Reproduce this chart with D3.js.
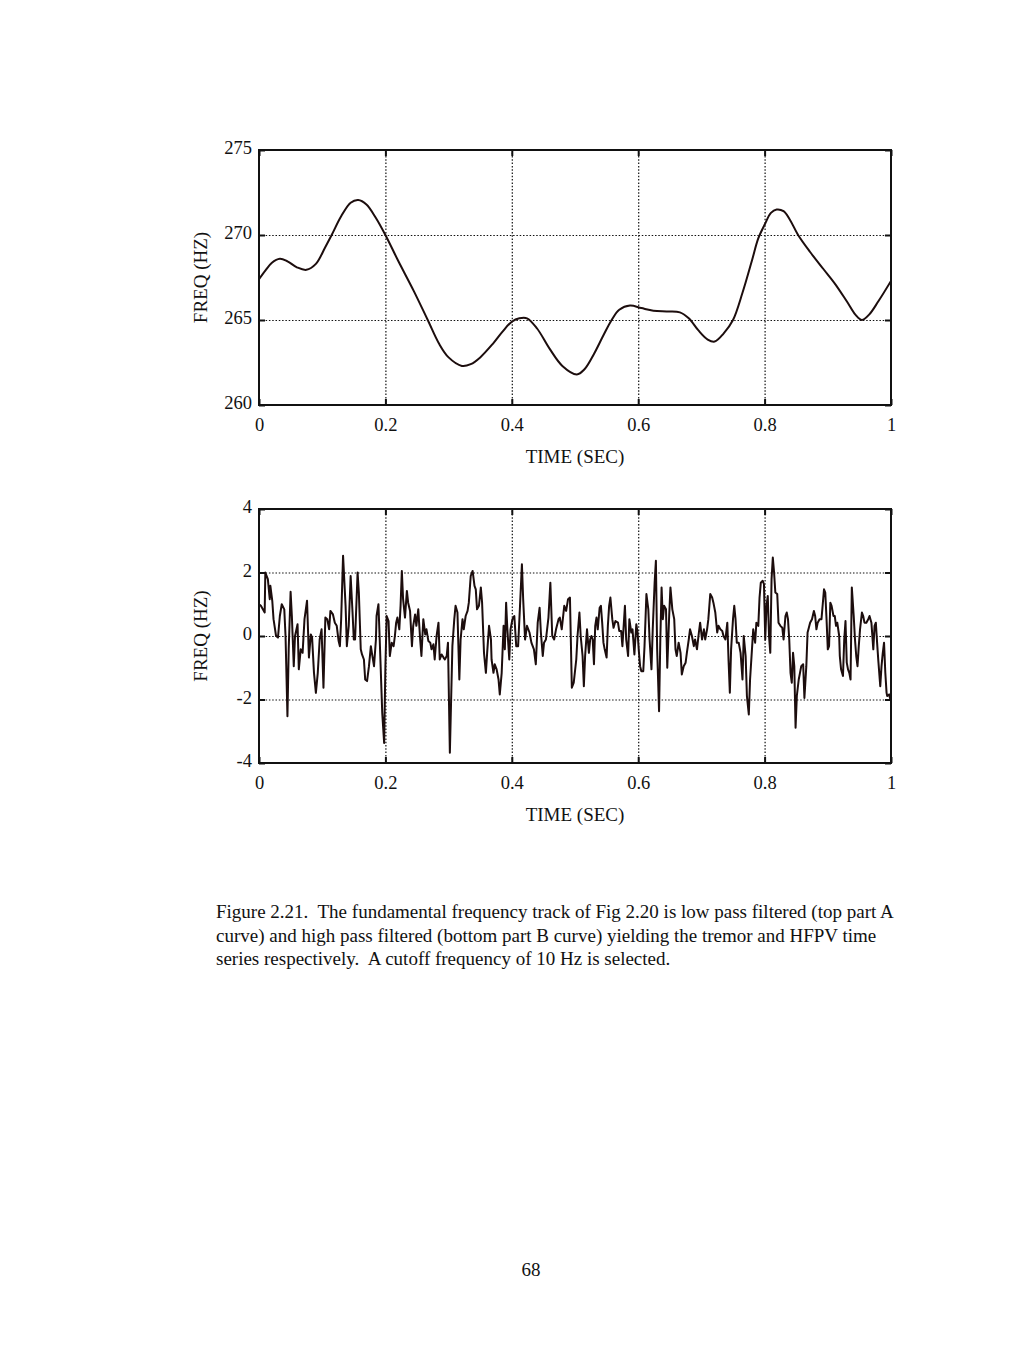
<!DOCTYPE html>
<meta charset="utf-8">
<style>
body { margin: 0; background: #fff; }
svg { display: block; }
text { font-family: "Liberation Serif", "DejaVu Serif", serif; fill: #111; }
.grid line { stroke: #111; stroke-width: 1.2; stroke-dasharray: 1.5,1.8; }
.grid path { display: none; }
.tick-labels path, .tick-labels line { display: none; }
.tick-labels text { font-size: 18.5px; font-family: "Liberation Serif", serif; }
.inner path { display: none; }
.inner line { stroke: #111; stroke-width: 2; }
.frame { fill: none; stroke: #111; stroke-width: 2; }
.trace { fill: none; stroke: #1c0d0d; stroke-width: 2; stroke-linejoin: round; }
</style>
<body>
<svg width="1024" height="1365"></svg>
<script src="https://cdn.jsdelivr.net/npm/d3@7"></script>
<script>

// x axis (both panels)
var timeTicks = [0, 0.2, 0.4, 0.6, 0.8, 1];

// part A: low pass filtered track (tremor), [time sec, freq Hz]
var tremorTicks = [260, 265, 270, 275];
var tremor = [
  [0, 267.4], [0.01, 267.9], [0.02, 268.35], [0.033, 268.6], [0.045, 268.45],
  [0.06, 268.1], [0.075, 267.95], [0.09, 268.3], [0.105, 269.3], [0.115, 270.0],
  [0.13, 271.1], [0.145, 271.9], [0.157, 272.06], [0.17, 271.8], [0.185, 271.0],
  [0.2, 270.0], [0.22, 268.5], [0.245, 266.7], [0.267, 265.0], [0.285, 263.6],
  [0.3, 262.8], [0.321, 262.3], [0.335, 262.4], [0.35, 262.8], [0.37, 263.6],
  [0.385, 264.3], [0.4, 264.9], [0.412, 265.1], [0.424, 265.1], [0.44, 264.5],
  [0.46, 263.3], [0.48, 262.3], [0.503, 261.8], [0.515, 262.1], [0.53, 263.0],
  [0.545, 264.1], [0.558, 265.0], [0.57, 265.6], [0.587, 265.85], [0.605, 265.7],
  [0.624, 265.55], [0.645, 265.5], [0.666, 265.45], [0.68, 265.1], [0.695, 264.4],
  [0.71, 263.85], [0.721, 263.73], [0.735, 264.2], [0.75, 265.0], [0.765, 266.6],
  [0.78, 268.5], [0.79, 269.8], [0.8, 270.6], [0.81, 271.3], [0.819, 271.5],
  [0.83, 271.4], [0.84, 270.9], [0.853, 270.0], [0.872, 269.0], [0.893, 268.0],
  [0.912, 267.1], [0.93, 266.1], [0.944, 265.3], [0.954, 265.0], [0.965, 265.3],
  [0.98, 266.1], [1.0, 267.3]
];

// part B: high pass filtered track (HFPV), [time sec, freq Hz]
var hfpvTicks = [-4, -2, 0, 2, 4];
var hfpv = [
  [0.000,1.0],[0.003,0.95],[0.009,0.74],[0.010,2.0],[0.014,1.79],[0.017,1.16],[0.018,1.58],[0.021,1.11],
  [0.023,0.53],[0.027,0],[0.030,-0.05],[0.033,0.63],[0.036,1.0],[0.040,0.84],[0.042,0],[0.045,-2.53],
  [0.047,-0.42],[0.050,1.39],[0.052,0.63],[0.055,-0.95],[0.057,0],[0.061,0.37],[0.063,-1.05],[0.066,-0.42],
  [0.069,-0.53],[0.072,0.53],[0.076,1.11],[0.079,-0.68],[0.082,0.05],[0.084,-0.05],[0.087,-1.16],[0.090,-1.79],
  [0.093,-1.16],[0.096,-0.11],[0.099,0.21],[0.102,-1.63],[0.105,0.58],[0.108,0.53],[0.111,0.21],[0.113,0.79],
  [0.117,0.68],[0.120,0.42],[0.123,0.32],[0.126,-0.16],[0.128,-0.32],[0.130,0.53],[0.133,2.53],[0.137,0.95],
  [0.139,-0.32],[0.142,0.32],[0.145,1.89],[0.148,0.74],[0.150,-0.11],[0.152,-0.11],[0.156,2.0],[0.158,1.37],
  [0.161,-0.42],[0.163,-0.58],[0.166,-0.74],[0.168,-1.37],
  [0.171,-1.42],[0.174,-0.95],[0.177,-0.32],[0.179,-0.58],[0.182,-0.95],[0.185,-0.11],[0.186,0.63],[0.189,1.0],
  [0.191,-0.11],[0.195,-2.42],[0.198,-3.37],[0.200,-0.95],[0.202,0.63],[0.205,0.47],[0.207,-0.63],[0.210,-0.21],
  [0.213,-0.32],[0.215,0],[0.217,0.42],[0.219,0.58],[0.222,0.21],[0.224,0.95],[0.226,2.05],[0.228,1.16],
  [0.231,0.58],[0.234,1.42],[0.236,1.05],[0.239,0.79],[0.242,-0.32],[0.244,0.32],[0.247,0.68],[0.249,0.32],
  [0.252,0.84],[0.255,-0.11],[0.257,-0.63],[0.260,0.53],[0.263,0.05],[0.265,0.21],[0.268,-0.16],[0.271,-0.21],
  [0.273,-0.42],[0.276,-0.26],[0.278,-0.74],[0.281,0],[0.284,0.42],[0.286,-0.74],[0.289,-0.58],[0.292,-0.68],
  [0.294,-0.74],[0.297,-0.63],[0.299,-0.21],[0.302,-3.68],[0.304,-2.0],[0.306,-0.32],[0.309,0.53],[0.311,0.95],
  [0.314,0.74],[0.317,-1.37],[0.319,-0.11],[0.322,0.53],[0.324,0.21],[0.327,0.63],[0.330,0.79],[0.332,1.05],
  [0.335,1.89],
  [0.338,2.05],[0.341,1.58],[0.343,1.47],[0.345,0.84],[0.348,0.95],[0.351,1.53],[0.353,1.05],[0.356,-0.53],
  [0.359,-1.16],[0.361,-0.53],[0.364,0.32],[0.367,-0.11],[0.368,-0.74],[0.371,-1.16],[0.373,-0.89],[0.376,-1.05],
  [0.379,-1.37],[0.381,-1.84],[0.384,-1.16],[0.387,0.32],[0.389,-0.42],[0.391,1.05],[0.393,0.21],[0.396,-0.74],
  [0.398,0.21],[0.401,0.53],[0.404,0.63],[0.407,-0.32],[0.410,-0.32],[0.413,0.95],[0.416,2.26],[0.418,1.16],
  [0.421,-0.11],[0.424,0.32],[0.428,0.11],[0.431,-0.21],[0.435,-0.42],[0.438,-0.89],[0.441,0.42],[0.444,0.89],
  [0.446,0.11],[0.449,-0.63],[0.451,-0.21],[0.454,-0.11],[0.458,0.58],[0.461,1.68],[0.464,0],[0.467,-0.11],
  [0.470,0.21],[0.474,0.53],[0.476,0.58],[0.479,0.21],[0.483,0.95],[0.486,0.79],[0.489,1.16],[0.492,1.21],
  [0.495,-1.63],[0.498,-1.47],[0.502,-0.74],
  [0.504,0],[0.507,0.74],[0.509,0],[0.512,-0.63],[0.514,-1.58],[0.516,-0.63],[0.519,0.21],[0.522,-0.53],
  [0.524,-0.11],[0.526,0],[0.528,-0.11],[0.530,-0.89],[0.532,0.32],[0.534,0.58],[0.536,0.21],[0.539,0.89],
  [0.541,0.95],[0.543,0.42],[0.545,-0.21],[0.547,-0.42],[0.550,-0.68],[0.552,0.32],[0.554,0.95],[0.556,1.21],
  [0.559,0.53],[0.561,0.26],[0.564,0.47],[0.568,0.42],[0.570,0.16],[0.573,0.16],[0.575,-0.32],[0.579,0.95],
  [0.581,-0.11],[0.584,-0.63],[0.586,0.53],[0.589,0.11],[0.591,0.21],[0.594,-0.58],[0.597,0.37],[0.599,0.11],
  [0.601,-0.47],[0.603,-0.95],[0.605,-1.11],[0.608,-1.11],[0.610,-0.32],[0.613,1.32],[0.616,0.84],[0.618,-0.11],
  [0.621,-1.05],[0.623,0.21],[0.626,1.68],[0.628,2.37],[0.630,-0.42],[0.633,-2.37],[0.635,-0.11],[0.637,1.53],
  [0.639,0.53],[0.641,0.95],[0.644,0.84],[0.646,-1.0],[0.649,0.63],[0.651,1.53],[0.654,0.84],[0.657,0.53],
  [0.659,-0.42],[0.661,-0.63],[0.664,-0.21],[0.667,-0.53],[0.669,-1.21],
  [0.672,-0.95],[0.675,-0.84],[0.677,-0.53],[0.680,-0.11],[0.682,0.21],[0.685,0],[0.688,-0.32],[0.690,-0.11],
  [0.693,-0.42],[0.696,0.11],[0.698,0.42],[0.701,-0.11],[0.704,0.21],[0.706,-0.11],[0.709,0.21],[0.711,0.53],
  [0.714,1.32],[0.717,1.21],[0.719,1.05],[0.722,0.74],[0.725,0.11],[0.727,0.32],[0.730,0.21],[0.733,0.16],
  [0.735,0],[0.738,-0.11],[0.741,0.42],[0.743,-0.79],[0.745,-1.79],[0.747,-0.42],[0.750,0.53],[0.752,0.95],
  [0.754,0.53],[0.756,-0.21],[0.759,-0.21],[0.762,-0.53],[0.765,-1.37],[0.767,0],[0.770,-0.63],[0.772,-1.89],
  [0.775,-2.47],[0.777,-1.37],[0.780,-0.42],[0.782,0.21],[0.785,-0.21],[0.787,0.42],[0.790,0.32],[0.792,1.21],
  [0.794,1.68],[0.797,1.74],[0.799,1.63],[0.801,-0.11],[0.803,0.95],[0.805,1.26],[0.807,0],[0.809,-0.53],
  [0.811,1.79],[0.813,2.47],[0.815,2.0],[0.817,1.37],[0.820,1.32],[0.822,0.42],[0.825,0.32],[0.828,0.26],
  [0.830,-0.11],[0.833,0.63],[0.835,0.74],
  [0.837,0.53],[0.839,-0.11],[0.841,-1.16],[0.843,-1.47],[0.845,-0.53],[0.847,-0.95],[0.849,-2.89],[0.851,-1.89],
  [0.854,-1.37],[0.856,-1.16],[0.858,-0.95],[0.861,-0.89],[0.863,-1.95],[0.866,-0.95],[0.868,0.11],[0.870,0.26],
  [0.872,0.42],[0.875,0.53],[0.878,0.79],[0.880,0.63],[0.882,0.21],[0.884,0.42],[0.887,0.53],[0.890,0.53],
  [0.892,1.0],[0.894,1.47],[0.896,1.37],[0.898,0.53],[0.900,-0.42],[0.902,-0.32],[0.904,1.05],[0.906,0.95],
  [0.909,0.63],[0.911,0.63],[0.913,0.32],[0.915,0.42],[0.918,0],[0.919,-0.63],[0.921,-1.05],[0.924,-1.26],
  [0.926,-0.11],[0.928,0.47],[0.930,-0.84],[0.932,-1.05],[0.934,-1.16],[0.936,-1.37],[0.938,1.53],[0.941,0.63],
  [0.943,-0.11],[0.945,-0.63],[0.947,-0.95],[0.949,-0.32],[0.951,0.21],[0.954,0.74],[0.956,0.63],[0.958,0.42],
  [0.961,0.42],[0.964,0.53],[0.966,0.63],[0.969,0.42],[0.972,-0.42],[0.974,0.32],[0.976,0.42],[0.978,-0.21],
  [0.980,-0.79],[0.983,-1.58],[0.985,-0.95],[0.987,-0.53],[0.989,-0.21],[0.991,-1.16],[0.993,-1.79],[0.994,-1.89],
  [0.997,-1.84],[0.999,-2.0]
];

var caption = [
  "Figure 2.21.\u00a0 The fundamental frequency track of Fig 2.20 is low pass filtered (top part A",
  "curve) and high pass filtered (bottom part B curve) yielding the tremor and HFPV time",
  "series respectively.\u00a0 A cutoff frequency of 10 Hz is selected."
];
var pageNumber = "68";

var svg = d3.select("svg");
svg.append("rect").attr("width", 1024).attr("height", 1365).attr("fill", "#fff");

var left = 259, right = 891;

function panel(data, ticks, top, bottom, curve, id) {
  var w = right - left, h = bottom - top;
  var x = d3.scaleLinear().domain([0, 1]).range([0, w]);
  var y = d3.scaleLinear().domain(d3.extent(ticks)).range([h, 0]);
  var plain = function(d) { return String(d); };

  var g = svg.append("g").attr("transform", "translate(" + left + "," + top + ")");

  g.append("clipPath").attr("id", id)
    .append("rect").attr("width", w).attr("height", h);

  // dotted grid
  g.append("g").attr("class", "grid")
      .attr("transform", "translate(0," + h + ")")
      .call(d3.axisBottom(x).tickValues(timeTicks.slice(1, -1)).tickSize(-h).tickFormat(""));
  g.append("g").attr("class", "grid")
      .call(d3.axisLeft(y).tickValues(ticks.slice(1, -1)).tickSize(-w).tickFormat(""));

  // small inward ticks on the frame
  g.append("g").attr("class", "inner")
      .attr("transform", "translate(0," + h + ")")
      .call(d3.axisBottom(x).tickValues(timeTicks).tickSize(-6).tickFormat(""));
  g.append("g").attr("class", "inner")
      .call(d3.axisTop(x).tickValues(timeTicks).tickSize(-6).tickFormat(""));
  g.append("g").attr("class", "inner")
      .call(d3.axisLeft(y).tickValues(ticks).tickSize(-6).tickFormat(""));
  g.append("g").attr("class", "inner")
      .attr("transform", "translate(" + w + ",0)")
      .call(d3.axisRight(y).tickValues(ticks).tickSize(-6).tickFormat(""));

  g.append("path")
      .datum(data)
      .attr("class", "trace")
      .attr("clip-path", "url(#" + id + ")")
      .attr("d", d3.line()
        .curve(curve)
        .x(function(d) { return x(d[0]); })
        .y(function(d) { return y(d[1]); }));

  g.append("rect").attr("class", "frame").attr("width", w).attr("height", h);

  // labels
  g.append("g").attr("class", "tick-labels")
      .attr("transform", "translate(0," + h + ")")
      .call(d3.axisBottom(x).tickValues(timeTicks).tickSize(0).tickPadding(13).tickFormat(plain));
  g.append("g").attr("class", "tick-labels")
      .call(d3.axisLeft(y).tickValues(ticks).tickSize(0).tickPadding(7).tickFormat(plain))
    .selectAll("text").attr("y", -2);

  g.append("text")
      .attr("x", w / 2).attr("y", h + 58)
      .attr("text-anchor", "middle")
      .style("font-size", "19px")
      .text("TIME (SEC)");

  g.append("text")
      .attr("transform", "translate(-52," + (h / 2) + ") rotate(-90)")
      .attr("text-anchor", "middle")
      .style("font-size", "19px")
      .text("FREQ (HZ)");
}

panel(tremor, tremorTicks, 150, 405, d3.curveCatmullRom, "clipA");
panel(hfpv, hfpvTicks, 509, 763, d3.curveLinear, "clipB");

svg.append("g").selectAll("text")
  .data(caption)
  .enter().append("text")
    .attr("x", 216)
    .attr("y", function(d, i) { return 918 + i * 23.5; })
    .style("font-size", "19px")
    .text(function(d) { return d; });

svg.append("text")
    .attr("x", 531).attr("y", 1276)
    .attr("text-anchor", "middle")
    .style("font-size", "19px")
    .text(pageNumber);

</script>
</body>
